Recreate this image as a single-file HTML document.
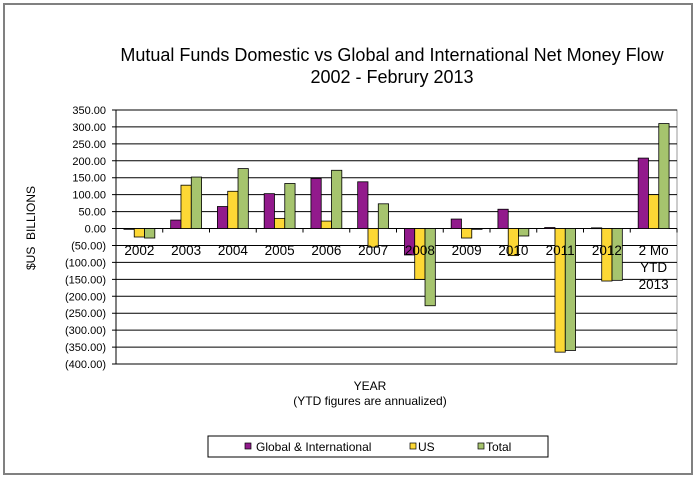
<!DOCTYPE html>
<html><head><meta charset="utf-8"><style>
body{margin:0;background:#fff;}
svg{display:block;font-family:"Liberation Sans",Arial,sans-serif;}
</style></head><body>
<svg id="chart" width="700" height="481" viewBox="0 0 700 481">
<rect x="4" y="4" width="688" height="470" fill="#fff" stroke="#808080" stroke-width="2"/>
<text x="392" y="61" text-anchor="middle" font-size="18">Mutual Funds Domestic vs Global and International Net Money Flow</text>
<text x="392" y="83" text-anchor="middle" font-size="18">2002 - Februry 2013</text>
<text transform="translate(35,228) rotate(-90)" text-anchor="middle" font-size="12">$US&#160;&#160;BILLIONS</text>
<text x="370" y="390" text-anchor="middle" font-size="12">YEAR</text>
<text x="370" y="405" text-anchor="middle" font-size="12">(YTD figures are annualized)</text>
<g id="grid"></g><g id="bars"></g><g id="labels"></g>
<g>
<rect x="208" y="436" width="340" height="21" fill="#fff" stroke="#000"/>
<rect x="245" y="443" width="6" height="6" fill="#921A8C" stroke="#000" stroke-width="0.7"/>
<text x="256" y="451" font-size="12">Global &amp; International</text>
<rect x="410" y="443" width="6" height="6" fill="#FDD835" stroke="#000" stroke-width="0.7"/>
<text x="418" y="451" font-size="12">US</text>
<rect x="478" y="443" width="6" height="6" fill="#A6C46E" stroke="#000" stroke-width="0.7"/>
<text x="486" y="451" font-size="12">Total</text>
</g>
</svg>
<script>
const categories=[["2002"],["2003"],["2004"],["2005"],["2006"],["2007"],["2008"],["2009"],["2010"],["2011"],["2012"],["2 Mo","YTD","2013"]];
const globalIntl=[-1,25,65,103,148,138,-78,28,57,3,2,208];
const usFlow=[-25,128,110,30,22,-55,-150,-28,-80,-365,-155,100];
const totalFlow=[-28,152,177,133,172,73,-228,-2,-22,-360,-153,310];
const yTicks=[350,300,250,200,150,100,50,0,-50,-100,-150,-200,-250,-300,-350,-400];
const NS="http://www.w3.org/2000/svg";
const L=116,R=677,T=110,B=364,YMAX=350,YMIN=-400;
function y(v){return T+(YMAX-v)/(YMAX-YMIN)*(B-T);}
const slot=(R-L)/categories.length;
function xc(i){return L+slot*(i+0.5);}
function mk(t,a,p){const e=document.createElementNS(NS,t);for(const k in a)e.setAttribute(k,a[k]);p.appendChild(e);return e;}
const grid=document.getElementById('grid'),bars=document.getElementById('bars'),labels=document.getElementById('labels');
mk('rect',{x:L,y:T,width:R-L,height:B-T,fill:'none',stroke:'#999'},grid);
yTicks.forEach(v=>{
 const yy=y(v);
 const l=mk('line',{x1:L-4,x2:R,y1:yy,y2:yy,stroke:'#000','stroke-width':1},grid);
 
 
 const t=mk('text',{x:106,y:yy+4,'text-anchor':'end','font-size':11},grid);
 t.textContent=v<0?'('+Math.abs(v).toFixed(2)+')':v.toFixed(2);
 
 
});
mk('line',{x1:L,x2:L,y1:T,y2:B,stroke:'#000'},grid);
for(let i=0;i<=categories.length;i++){const xx=L+slot*i;mk('line',{x1:xx,x2:xx,y1:y(0),y2:y(0)+4,stroke:'#000'},grid);}
const series=[[globalIntl,'#921A8C','global'],[usFlow,'#FDD835','us'],[totalFlow,'#A6C46E','total']];
const bw=10.3;
categories.forEach((c,i)=>{
 series.forEach((s,j)=>{
  const v=s[0][i];const x0=xc(i)-1.5*bw+j*bw;
  const y0=Math.min(y(v),y(0)),h=Math.max(Math.abs(y(v)-y(0)),0.8);
  const r=mk('rect',{x:x0,y:y0,width:bw,height:h,fill:s[1],stroke:'#000','stroke-width':0.8},bars);
  
  
 });
 c.forEach((ln,k)=>{
  const t=mk('text',{x:xc(i),y:255+k*17,'text-anchor':'middle','font-size':13.5},labels);
  t.textContent=ln;
  
  
 });
});
</script>
</body></html>
